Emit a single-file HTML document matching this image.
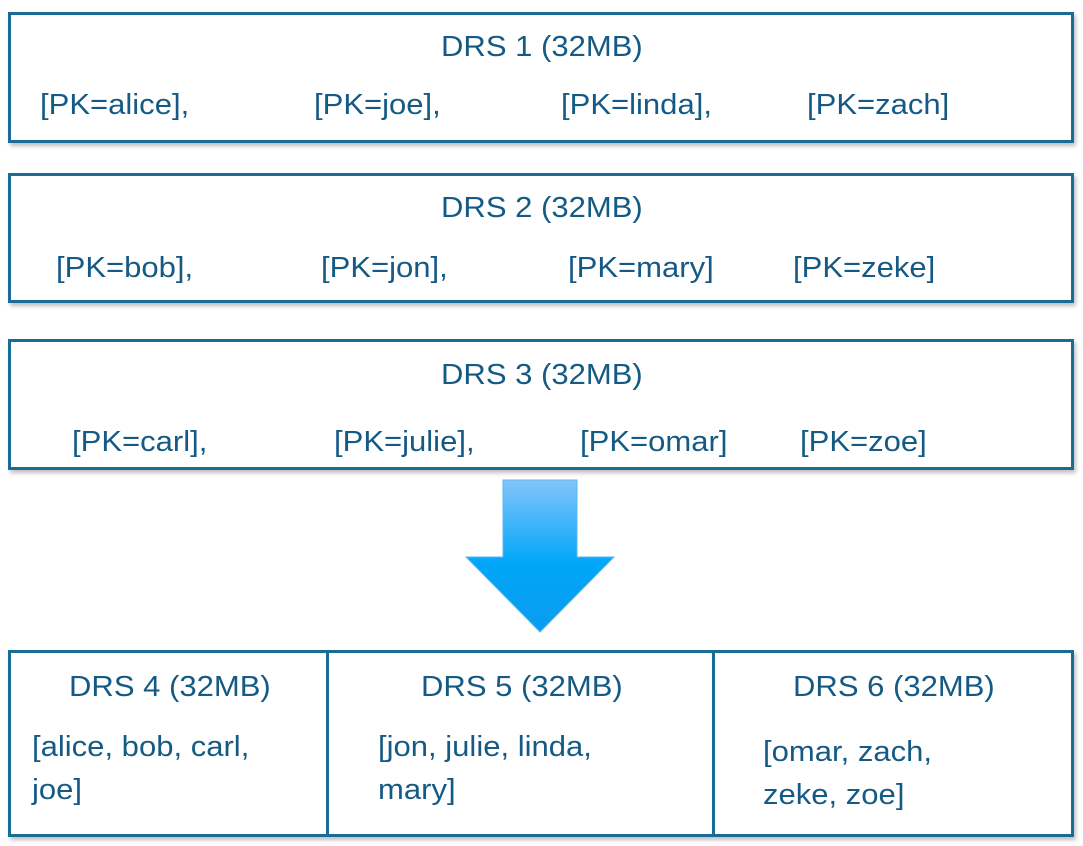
<!DOCTYPE html>
<html><head><style>
body{margin:0;width:1083px;height:846px;background:#fff;position:relative;overflow:hidden;font-family:"Liberation Sans",sans-serif;}
.b{position:absolute;border:3px solid #1a6b96;box-sizing:border-box;box-shadow:2px 3px 4px rgba(0,0,0,0.25);background:#fff;}
.t{position:absolute;color:#155a85;font-size:29px;line-height:28px;white-space:nowrap;transform:scaleX(1.07);transform-origin:0 0;}
</style></head><body>
<div class="b" style="left:8px;top:12px;width:1066px;height:131px"></div>
<div class="b" style="left:8px;top:173px;width:1066px;height:130px"></div>
<div class="b" style="left:8px;top:339px;width:1066px;height:131px"></div>
<div class="b" style="left:8px;top:650px;width:1066px;height:187px"></div>
<div style="position:absolute;left:326px;top:650px;width:3px;height:187px;background:#1a6b96"></div>
<div style="position:absolute;left:712px;top:650px;width:3px;height:187px;background:#1a6b96"></div>

<div class="t" style="left:441px;top:33px">DRS 1 (32MB)</div>
<div class="t" style="left:40px;top:91px">[PK=alice],</div>
<div class="t" style="left:314px;top:91px">[PK=joe],</div>
<div class="t" style="left:561px;top:91px">[PK=linda],</div>
<div class="t" style="left:807px;top:91px">[PK=zach]</div>

<div class="t" style="left:441px;top:194px">DRS 2 (32MB)</div>
<div class="t" style="left:56px;top:254px">[PK=bob],</div>
<div class="t" style="left:321px;top:254px">[PK=jon],</div>
<div class="t" style="left:568px;top:254px">[PK=mary]</div>
<div class="t" style="left:793px;top:254px">[PK=zeke]</div>

<div class="t" style="left:441px;top:361px">DRS 3 (32MB)</div>
<div class="t" style="left:72px;top:428px">[PK=carl],</div>
<div class="t" style="left:334px;top:428px">[PK=julie],</div>
<div class="t" style="left:580px;top:428px">[PK=omar]</div>
<div class="t" style="left:800px;top:428px">[PK=zoe]</div>

<svg style="position:absolute;left:0;top:0" width="1083" height="846">
<defs><linearGradient id="g" x1="0" y1="0" x2="0" y2="1"><stop offset="0" stop-color="#84c4fb"/><stop offset="0.55" stop-color="#00a6f8"/><stop offset="1" stop-color="#0b9bef"/></linearGradient></defs>
<polygon points="503,480 577,480 577,557 614,557 540,632 466,557 503,557" fill="url(#g)" stroke="#5cb6f0" stroke-width="1"/>
</svg>

<div class="t" style="left:69px;top:673px">DRS 4 (32MB)</div>
<div class="t" style="left:32px;top:733px">[alice, bob, carl,</div>
<div class="t" style="left:32px;top:776px">joe]</div>
<div class="t" style="left:421px;top:673px">DRS 5 (32MB)</div>
<div class="t" style="left:378px;top:733px">[jon, julie, linda,</div>
<div class="t" style="left:378px;top:776px">mary]</div>
<div class="t" style="left:793px;top:673px">DRS 6 (32MB)</div>
<div class="t" style="left:763px;top:738px">[omar, zach,</div>
<div class="t" style="left:763px;top:781px">zeke, zoe]</div>
</body></html>
